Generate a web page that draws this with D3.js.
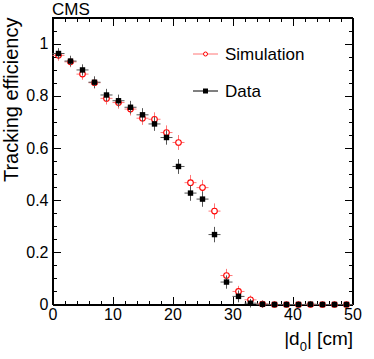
<!DOCTYPE html>
<html>
<head>
<meta charset="utf-8">
<script src="https://cdn.jsdelivr.net/npm/d3@7"></script>
<style>
  body { margin: 0; background: #fff; }
  svg { font-family: "Liberation Sans", Arial, Helvetica, sans-serif; }
  .axis path, .axis line { stroke: #000; shape-rendering: crispEdges; }
  .axis text { font-size: 16px; fill: #000; }
</style>
</head>
<body>
<script>
// bins of |d0| (2 cm wide)
const binCenters = [1, 3, 5, 7, 9, 11, 13, 15, 17, 19, 21, 23, 25, 27, 29, 31, 33, 35, 37, 39, 41, 43, 45, 47, 49];
const binHalf = 1;

// efficiency
const dataEff = [0.962, 0.933, 0.899, 0.852, 0.803, 0.781, 0.756, 0.727, 0.692, 0.640, 0.529, 0.427, 0.404, 0.268, 0.086, 0.031, 0.005, 0.001, 0, 0, 0, 0.001, 0, 0, 0];
const dataErr = [0.009, 0.009, 0.010, 0.011, 0.012, 0.012, 0.013, 0.014, 0.015, 0.016, 0.017, 0.018, 0.018, 0.018, 0.014, 0.011, 0.005, 0.002, 0, 0, 0, 0.001, 0, 0, 0];
const simEff = [0.955, 0.930, 0.883, 0.850, 0.790, 0.774, 0.749, 0.714, 0.710, 0.659, 0.621, 0.467, 0.448, 0.358, 0.111, 0.050, 0.018, 0.002, 0, 0, 0, 0, 0, 0, 0];
const simErr = [0.009, 0.009, 0.010, 0.011, 0.012, 0.012, 0.013, 0.014, 0.015, 0.016, 0.017, 0.018, 0.018, 0.018, 0.014, 0.010, 0.005, 0.002, 0, 0, 0, 0, 0, 0, 0];

// ticks
const xMajor = [0, 10, 20, 30, 40, 50];
const xMinor = [2, 4, 6, 8, 12, 14, 16, 18, 22, 24, 26, 28, 32, 34, 36, 38, 42, 44, 46, 48];
const yMajor = [0, 0.2, 0.4, 0.6, 0.8, 1];
const yLabels = ["0", "0.2", "0.4", "0.6", "0.8", "1"];
const yMinor = [0.05, 0.1, 0.15, 0.25, 0.3, 0.35, 0.45, 0.5, 0.55, 0.65, 0.7, 0.75, 0.85, 0.9, 0.95, 1.05];

const w = 374, h = 359;
const pLeft = 52.5, pRight = 352.5, pTop = 17.5, pBottom = 304.5;

const x = d3.scaleLinear().domain([0, 50]).range([pLeft, pRight]);
const y = d3.scaleLinear().domain([0, 1.1]).range([pBottom, pTop]);

const svg = d3.select("body").append("svg")
  .attr("width", w)
  .attr("height", h);

// axes, ticks pointing inside the frame
svg.append("g").attr("class", "axis")
  .attr("transform", "translate(0," + pBottom + ")")
  .call(d3.axisBottom(x).tickValues(xMajor).tickSize(-8).tickSizeOuter(0).tickPadding(4).tickFormat(d3.format("d")));
svg.append("g").attr("class", "axis")
  .attr("transform", "translate(0," + pBottom + ")")
  .call(d3.axisBottom(x).tickValues(xMinor).tickSize(-4).tickSizeOuter(0).tickFormat(""));
svg.append("g").attr("class", "axis")
  .attr("transform", "translate(0," + pTop + ")")
  .call(d3.axisTop(x).tickValues(xMajor).tickSize(-8).tickSizeOuter(0).tickFormat(""));
svg.append("g").attr("class", "axis")
  .attr("transform", "translate(0," + pTop + ")")
  .call(d3.axisTop(x).tickValues(xMinor).tickSize(-4).tickSizeOuter(0).tickFormat(""));

svg.append("g").attr("class", "axis")
  .attr("transform", "translate(" + pLeft + ",0)")
  .call(d3.axisLeft(y).tickValues(yMajor).tickSize(-8).tickSizeOuter(0).tickPadding(4).tickFormat((d, i) => yLabels[i]));
svg.append("g").attr("class", "axis")
  .attr("transform", "translate(" + pLeft + ",0)")
  .call(d3.axisLeft(y).tickValues(yMinor).tickSize(-4).tickSizeOuter(0).tickFormat(""));
svg.append("g").attr("class", "axis")
  .attr("transform", "translate(" + pRight + ",0)")
  .call(d3.axisRight(y).tickValues(yMajor).tickSize(-8).tickSizeOuter(0).tickFormat(""));
svg.append("g").attr("class", "axis")
  .attr("transform", "translate(" + pRight + ",0)")
  .call(d3.axisRight(y).tickValues(yMinor).tickSize(-4).tickSizeOuter(0).tickFormat(""));

svg.append("rect")
  .attr("x", pLeft).attr("y", pTop)
  .attr("width", pRight - pLeft).attr("height", pBottom - pTop)
  .attr("fill", "none").attr("stroke", "#000").attr("shape-rendering", "crispEdges");

// points with error bars
function drawSeries(eff, err, color, barColor, marker) {
  const g = svg.append("g");
  const pts = binCenters.map((c, i) => ({c: c, v: eff[i], e: err[i]}));
  g.selectAll(".hbar").data(pts).enter().append("line")
    .attr("x1", d => x(d.c - binHalf)).attr("x2", d => x(d.c + binHalf))
    .attr("y1", d => y(d.v)).attr("y2", d => y(d.v))
    .attr("stroke", barColor).attr("stroke-width", 1);
  g.selectAll(".vbar").data(pts).enter().append("line")
    .attr("x1", d => x(d.c)).attr("x2", d => x(d.c))
    .attr("y1", d => y(d.v - d.e) + 3).attr("y2", d => y(d.v + d.e) - 3)
    .attr("stroke", barColor).attr("stroke-width", 1);
  if (marker == "circle") {
    g.selectAll("circle").data(pts).enter().append("circle")
      .attr("cx", d => x(d.c)).attr("cy", d => y(d.v)).attr("r", 2.8)
      .attr("fill", "#fff").attr("stroke", color).attr("stroke-width", 1.1);
  } else {
    g.selectAll("rect").data(pts).enter().append("rect")
      .attr("x", d => x(d.c) - 2.7).attr("y", d => y(d.v) - 2.7)
      .attr("width", 5.4).attr("height", 5.4)
      .attr("fill", color);
  }
}
drawSeries(simEff, simErr, "#f00", "#f77", "circle");
drawSeries(dataEff, dataErr, "#000", "#555", "square");

// legend
const legend = svg.append("g");
legend.append("line").attr("x1", 193).attr("x2", 218).attr("y1", 54).attr("y2", 54)
  .attr("stroke", "#f77").attr("stroke-width", 1);
legend.append("circle").attr("cx", 205.5).attr("cy", 54).attr("r", 2)
  .attr("fill", "#fff").attr("stroke", "#f00");
legend.append("text").attr("x", 225).attr("y", 60).attr("font-size", 17).text("Simulation");
legend.append("line").attr("x1", 193).attr("x2", 218).attr("y1", 91).attr("y2", 91)
  .attr("stroke", "#000").attr("stroke-width", 1);
legend.append("rect").attr("x", 203).attr("y", 88.5).attr("width", 5).attr("height", 5).attr("fill", "#000");
legend.append("text").attr("x", 225).attr("y", 97).attr("font-size", 17).text("Data");

// titles
svg.append("text").attr("x", 52).attr("y", 15).attr("font-size", 17).text("CMS");

svg.append("text")
  .attr("transform", "translate(18," + pTop + ") rotate(-90)")
  .attr("text-anchor", "end")
  .attr("font-size", 20)
  .text("Tracking efficiency");

const xt = svg.append("text")
  .attr("x", 353).attr("y", 345)
  .attr("text-anchor", "end")
  .attr("font-size", 19);
xt.append("tspan").text("|d");
xt.append("tspan").attr("font-size", 13).attr("dy", 6).text("0");
xt.append("tspan").attr("dy", -6).text("| [cm]");
</script>
</body>
</html>
